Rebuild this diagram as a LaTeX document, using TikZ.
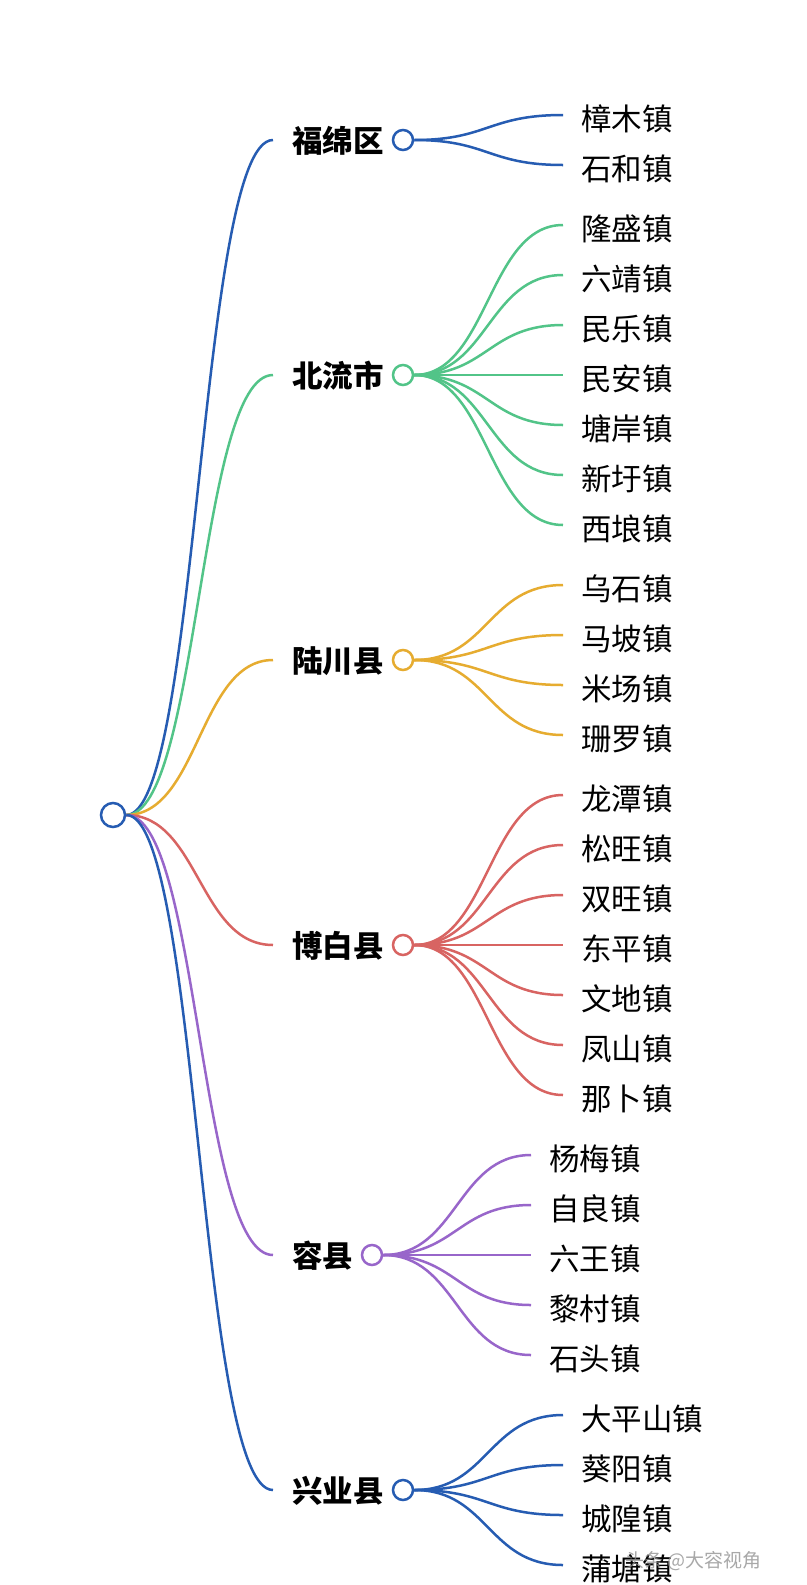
\documentclass[tikz,border=0pt]{standalone}
\usepackage{fontspec}
\usetikzlibrary{backgrounds}
\newfontfamily\cjk{Noto Sans CJK SC}
\definecolor{cblue}{RGB}{38,92,178}
\definecolor{cgreen}{RGB}{82,196,136}
\definecolor{corange}{RGB}{230,172,48}
\definecolor{cred}{RGB}{216,100,98}
\definecolor{cpurple}{RGB}{152,102,202}
\tikzset{
  lbl/.style={anchor=base west, inner sep=0pt, font=\cjk\fontsize{30.5}{30.5}\selectfont},
  dlbl/.style={anchor=base west, inner sep=0pt, font=\cjk\bfseries\fontsize{30.5}{30.5}\selectfont},
  dot/.style={circle, draw, line width=2.5pt, fill=white, minimum size=20pt, inner sep=0pt},
  link/.style={line width=2.5pt},
}
\newcommand\mmgroup[7]{%
  \node[dlbl] (d#1) at (292,#4+12.5) {#3};
  \node[dot,draw=#2] (c#1) at (#5,#4) {};
  \coordinate (e#1) at (273,#4);
  \begin{pgfonlayer}{background}
    \draw[link,#2] (root.east) .. controls (199,815) and (199,#4) .. (e#1);
  \end{pgfonlayer}
  \foreach \tn/\ty [count=\k] in {#7} {
    \node[lbl] (t#1-\k) at (#6,\ty+15) {\tn};
    \coordinate (s#1-\k) at (#6-18,\ty);
    \begin{pgfonlayer}{background}
      \draw[link,#2] (c#1.east) .. controls (#5+85,#4) and (#5+85,\ty) .. (s#1-\k);
    \end{pgfonlayer}
  }%
}
\begin{document}
\begin{tikzpicture}[x=1pt,y=-1pt]
\useasboundingbox (0,0) rectangle (806,1585);
\begin{pgfonlayer}{background}
  \fill[white] (0,0) rectangle (806,1585);
\end{pgfonlayer}
\node[dot, draw=cblue, minimum size=24pt] (root) at (113,815) {};
\mmgroup{a}{cblue}{福绵区}{140}{403}{581}{樟木镇/115, 石和镇/165}
\mmgroup{b}{cgreen}{北流市}{375}{403}{581}{隆盛镇/225, 六靖镇/275, 民乐镇/325, 民安镇/375, 塘岸镇/425, 新圩镇/475, 西埌镇/525}
\mmgroup{c}{corange}{陆川县}{660}{403}{581}{乌石镇/585, 马坡镇/635, 米场镇/685, 珊罗镇/735}
\mmgroup{d}{cred}{博白县}{945}{403}{581}{龙潭镇/795, 松旺镇/845, 双旺镇/895, 东平镇/945, 文地镇/995, 凤山镇/1045, 那卜镇/1095}
\mmgroup{e}{cpurple}{容县}{1255}{372}{549}{杨梅镇/1155, 自良镇/1205, 六王镇/1255, 黎村镇/1305, 石头镇/1355}
\mmgroup{f}{cblue}{兴业县}{1490}{403}{581}{大平山镇/1415, 葵阳镇/1465, 城隍镇/1515, 蒲塘镇/1565}
\node[anchor=base west, inner sep=0pt, font=\cjk\fontsize{19}{19}\selectfont, text=black!45, opacity=0.75] (wm) at (625,1567) {头条 @大容视角};
\end{tikzpicture}
\end{document}
